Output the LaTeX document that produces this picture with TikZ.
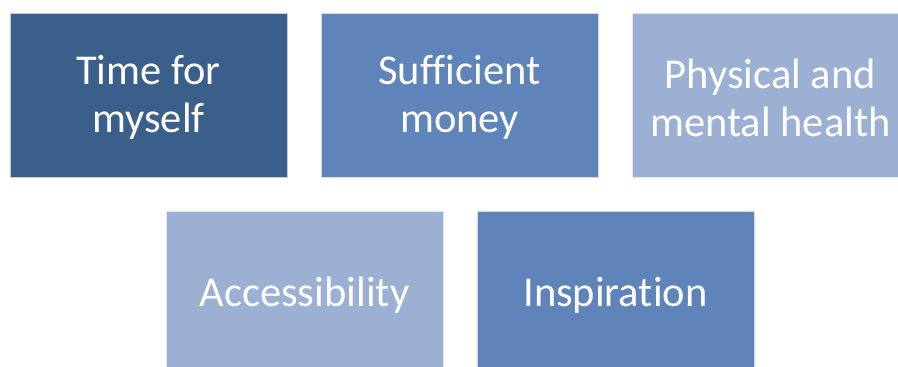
\documentclass[tikz,border=0pt]{standalone}
\usepackage{fontspec}
\setmainfont[Ligatures=NoCommon]{Carlito}
\definecolor{cDark}{HTML}{3A5F8B}
\definecolor{cMid}{HTML}{5F84B9}
\definecolor{cLight}{HTML}{9CB0D3}
\tikzset{
  tile/.style={rectangle, minimum width=277pt, minimum height=164.5pt, inner sep=0pt,
    draw=white!70!#1, line width=0.6pt, fill=#1},
  tiletext/.style={inner sep=0pt, text=white, align=center, yshift=-2pt,
    font=\fontsize{42.5}{48}\selectfont}
}
\begin{document}
\begin{tikzpicture}[x=1pt,y=-1pt]
\useasboundingbox (0,0) rectangle (898,367);
\clip (0,0) rectangle (898,367);
\fill[white] (0,0) rectangle (898,367);
\node[tile=cDark] (t1) at (148.5,95.5) {};
\node[tile=cMid] (t2) at (459.5,95.5) {};
\node[tile=cLight] (t3) at (770.5,95.5) {};
\node[tile=cLight] (t4) at (304.5,293.5) {};
\node[tile=cMid] (t5) at (615.5,293.5) {};
\node[tiletext] (l1) at (t1.center) {Time for\\myself};
\node[tiletext] (l2) at (t2.center) {Sufficient\\money};
\node[tiletext] (l3) at (t3.center) {Physical and\\mental health};
\node[tiletext] (l4) at (t4.center) {Accessibility};
\node[tiletext] (l5) at (t5.center) {Inspiration};
\end{tikzpicture}
\end{document}
